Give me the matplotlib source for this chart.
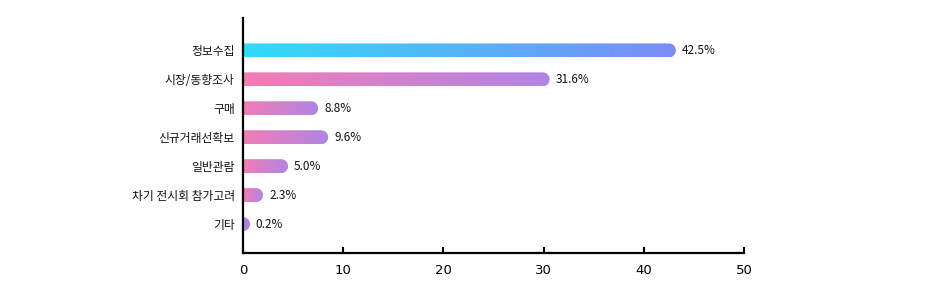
import numpy as np
import matplotlib
matplotlib.use("Agg")
import matplotlib.pyplot as plt
from matplotlib.path import Path
from matplotlib.patches import PathPatch
from matplotlib.colors import LinearSegmentedColormap

plt.rcParams['font.family'] = ['Noto Sans CJK KR', 'DejaVu Sans']

categories = ["정보수집", "시장/동향조사", "구매", "신규거래선확보", "일반관람", "차기 전시회 참가고려", "기타"]
pct = [42.5, 31.6, 8.8, 9.6, 5.0, 2.3, 0.2]
# visible bar lengths as drawn in the reference (cap included)
bar_len = [43.2, 30.6, 7.5, 8.5, 4.5, 2.0, 0.6]
grad_colors = [("#2fdcf8", "#7c8cf9")] + [("#f27db4", "#b085e6")] * 5 + [("#b884e0", "#a582e6")]

fig = plt.figure(figsize=(9.5, 3.01), dpi=100)
ax = fig.add_axes([243 / 950, 48 / 301, 501 / 950, 235 / 301])
ax.set_xlim(0, 50)
ax.set_ylim(7.0, -1.12)

# pixel -> data scale
xpp = 50 / 501
ypp = 8.12 / 235
hh = 7 * ypp   # half bar height
rx = 7 * xpp   # cap radius in x

for i, (L, c) in enumerate(zip(bar_len, grad_colors)):
    y = i
    xe = max(L - rx, 0.0)
    t = np.linspace(-np.pi / 2, np.pi / 2, 40)
    arc = np.column_stack([xe + rx * np.cos(t), y + hh * np.sin(t)])
    verts = np.vstack([[0, y - hh], arc, [0, y + hh], [0, y - hh]])
    codes = [Path.MOVETO] + [Path.LINETO] * (len(verts) - 2) + [Path.CLOSEPOLY]
    patch = PathPatch(Path(verts, codes), facecolor="none", edgecolor="none")
    ax.add_patch(patch)
    cmap = LinearSegmentedColormap.from_list("g%d" % i, list(c))
    grad = np.linspace(0, 1, 256).reshape(1, -1)
    im = ax.imshow(grad, cmap=cmap, aspect="auto", extent=[0, xe + rx, y + hh, y - hh],
                   interpolation="bilinear", zorder=2)
    im.set_clip_path(patch)
    ax.text(L + 6 * xpp, y, "%.1f%%" % pct[i], va="center", ha="left",
            fontsize=8.5, color="#111111", fontweight="medium")

ax.set_xlim(0, 50)
ax.set_ylim(7.0, -1.12)
ax.set_yticks(range(len(categories)))
ax.set_yticklabels(categories, fontsize=8.5, fontweight="medium", color="#111111")
ax.tick_params(axis="y", length=0, pad=6)
ax.set_xticks([0, 10, 20, 30, 40, 50])
ax.tick_params(axis="x", direction="in", length=4, width=1.5, labelsize=9.5, pad=8)
for lbl in ax.get_xticklabels():
    lbl.set_family("DejaVu Sans")
for s in ["top", "right"]:
    ax.spines[s].set_visible(False)
for s in ["left", "bottom"]:
    ax.spines[s].set_linewidth(1.6)
    ax.spines[s].set_color("black")

fig.savefig("out.png", dpi=100)
